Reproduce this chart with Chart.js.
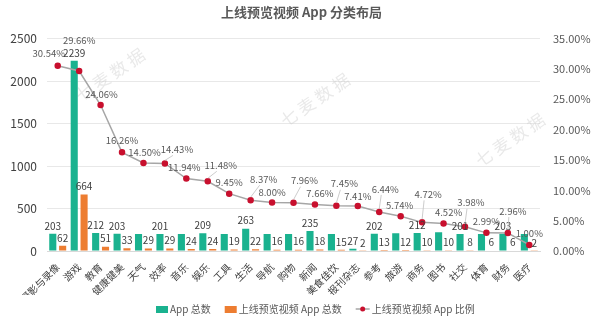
<!DOCTYPE html>
<html lang="zh">
<head>
    <meta charset="UTF-8">
    <title>上线预览视频 App 分类布局</title>
    <style>
        body {
            margin: 0;
            padding: 0;
            background-color: #ffffff;
        }

        canvas {
            display: block;
        }
    </style>
    <script src="https://cdn.jsdelivr.net/npm/chart.js"></script>
</head>
<body>
    <canvas id="categoryChart" width="603" height="318"></canvas>

    <script>
        // Data kategori
        const categories = ["摄影与录像", "游戏", "教育", "健康健美", "天气", "效率", "音乐", "娱乐", "工具", "生活", "导航",
            "购物", "新闻", "美食佳饮", "报刊杂志", "参考", "旅游", "商务", "图书", "社交", "体育", "财务", "医疗"];
        const appTotal = [203, 2239, 212, 203, 200, 201, 201, 209, 201, 263, 200,
            201, 235, 201, 27, 202, 209, 212, 221, 201, 201, 203, 200];
        const previewTotal = [62, 664, 51, 33, 29, 29, 24, 24, 19, 22, 16,
            16, 18, 15, 2, 13, 12, 10, 10, 8, 6, 6, 2];
        const previewRatio = [30.54, 29.66, 24.06, 16.26, 14.50, 14.43, 11.94, 11.48, 9.45, 8.37, 8.00,
            7.96, 7.66, 7.45, 7.41, 6.44, 5.74, 4.72, 4.52, 3.98, 2.99, 2.96, 1.00];
        // label jumlah App yang tampil di gambar asli
        const totalLabelShown = [true, true, true, true, false, true, false, true, false, true, false,
            false, true, false, true, true, false, true, false, true, false, true, false];
        const leftTicks = [0, 500, 1000, 1500, 2000, 2500];
        const rightTicks = [0, 5, 10, 15, 20, 25, 30, 35];

        const GREEN = "#1AB28F";
        const ORANGE = "#ED7D31";
        const RED = "#C8102E";
        const FONT = "'Noto Sans CJK SC', 'Noto Sans', sans-serif";

        // offset label persentase (dx, dy) dari titik
        const ratioOffsets = [[-9, -12], [0, -31], [1, -11], [0, -12], [1, -11], [12, -14], [-2, -11], [13, -16],
            [0, -11], [13, -21], [0, -10], [11, -22], [5, -11], [8, -22], [0, -10], [6, -23], [-1, -11],
            [6, -28], [5, -11], [6, -24], [0, -11], [5, -22], [0, -12]];

        // Watermark tipis
        const watermarkPlugin = {
            id: "watermark",
            beforeDatasetsDraw(chart) {
                const ctx = chart.ctx;
                ctx.save();
                ctx.fillStyle = "rgba(200,200,200,0.4)";
                ctx.font = "17px " + FONT;
                ctx.textAlign = "center";
                ctx.textBaseline = "middle";
                [[110, 75], [315, 100], [510, 140]].forEach(([x, y]) => {
                    ctx.save();
                    ctx.translate(x, y);
                    ctx.rotate(-0.6);
                    ctx.fillText("七 麦 数 据", 0, 0);
                    ctx.restore();
                });
                ctx.restore();
            }
        };

        // Label nilai di atas batang dan titik
        const valueLabelPlugin = {
            id: "valueLabels",
            afterDatasetsDraw(chart) {
                const ctx = chart.ctx;
                ctx.save();
                ctx.font = "10px " + FONT;
                ctx.textAlign = "center";
                ctx.textBaseline = "middle";
                ctx.fillStyle = "#404040";

                chart.getDatasetMeta(0).data.forEach((bar, i) => {
                    if (totalLabelShown[i]) ctx.fillText(appTotal[i], bar.x, bar.y - 8);
                });
                chart.getDatasetMeta(1).data.forEach((bar, i) => {
                    ctx.fillText(previewTotal[i], bar.x, bar.y - 8);
                });

                ctx.font = "9.5px " + FONT;
                ctx.fillStyle = "#595959";
                chart.getDatasetMeta(2).data.forEach((pt, i) => {
                    const [dx, dy] = ratioOffsets[i];
                    const lx = pt.x + dx;
                    const ly = pt.y + dy;
                    if (dy < -13 && dy > -30) {
                        ctx.strokeStyle = "#BFBFBF";
                        ctx.lineWidth = 0.8;
                        ctx.beginPath();
                        ctx.moveTo(pt.x, pt.y - 3);
                        ctx.lineTo(lx - 4, ly + 6);
                        ctx.stroke();
                    }
                    ctx.fillText(previewRatio[i].toFixed(2) + "%", lx, ly);
                });
                ctx.restore();
            }
        };

        // Legenda manual di bawah
        const legendPlugin = {
            id: "bottomLegend",
            afterDraw(chart) {
                const ctx = chart.ctx;
                const y = 309;
                let x = 156;
                ctx.save();
                ctx.font = "10px " + FONT;
                ctx.textBaseline = "middle";

                ctx.fillStyle = GREEN;
                ctx.fillRect(x, y - 3, 12, 7);
                ctx.fillStyle = "#595959";
                ctx.fillText("App 总数", x + 14, y);
                x += 14 + ctx.measureText("App 总数").width + 14;

                ctx.fillStyle = ORANGE;
                ctx.fillRect(x, y - 3, 12, 7);
                ctx.fillStyle = "#595959";
                ctx.fillText("上线预览视频 App 总数", x + 14, y);
                x += 14 + ctx.measureText("上线预览视频 App 总数").width + 14;

                ctx.strokeStyle = "#A6A6A6";
                ctx.lineWidth = 1.5;
                ctx.beginPath();
                ctx.moveTo(x, y);
                ctx.lineTo(x + 14, y);
                ctx.stroke();
                ctx.fillStyle = RED;
                ctx.beginPath();
                ctx.arc(x + 7, y, 2.5, 0, Math.PI * 2);
                ctx.fill();
                ctx.fillStyle = "#595959";
                ctx.fillText("上线预览视频 App 比例", x + 16, y);
                ctx.restore();
            }
        };

        const ctx = document.getElementById("categoryChart").getContext("2d");
        new Chart(ctx, {
            type: "bar",
            data: {
                labels: categories,
                datasets: [
                    {
                        label: "App 总数",
                        data: appTotal,
                        backgroundColor: GREEN,
                        yAxisID: "y",
                        order: 1,
                        categoryPercentage: 0.92,
                        barPercentage: 0.72
                    },
                    {
                        label: "上线预览视频 App 总数",
                        data: previewTotal,
                        backgroundColor: ORANGE,
                        yAxisID: "y",
                        order: 1,
                        categoryPercentage: 0.92,
                        barPercentage: 0.72
                    },
                    {
                        type: "line",
                        label: "上线预览视频 App 比例",
                        data: previewRatio,
                        yAxisID: "y1",
                        order: 0,
                        borderColor: "#A6A6A6",
                        borderWidth: 1.5,
                        pointBackgroundColor: RED,
                        pointBorderColor: RED,
                        pointRadius: 2.5,
                        tension: 0
                    }
                ]
            },
            options: {
                responsive: false,
                animation: false,
                layout: {
                    padding: { left: 0, right: 0, top: 0, bottom: 23 }
                },
                plugins: {
                    legend: { display: false },
                    tooltip: { enabled: false },
                    title: {
                        display: true,
                        text: "上线预览视频 App 分类布局",
                        color: "#595959",
                        font: { family: FONT, size: 13, weight: "bold" },
                        padding: { top: 4, bottom: 19 }
                    }
                },
                scales: {
                    x: {
                        grid: { display: false },
                        border: { color: "#D9D9D9" },
                        afterFit(scale) {
                            scale.height = 44;
                        },
                        ticks: {
                            color: "#404040",
                            font: { family: FONT, size: 10 },
                            minRotation: 45,
                            maxRotation: 45,
                            autoSkip: false,
                            padding: 2
                        }
                    },
                    y: {
                        position: "left",
                        min: 0,
                        max: 2500,
                        afterBuildTicks(scale) {
                            scale.ticks = leftTicks.map(v => ({ value: v }));
                        },
                        afterFit(scale) {
                            scale.width = 47;
                        },
                        grid: { color: "#E8E8E8", drawTicks: false },
                        border: { display: false },
                        ticks: {
                            color: "#404040",
                            font: { family: FONT, size: 12 },
                            padding: 10,
                            callback: v => String(v)
                        }
                    },
                    y1: {
                        position: "right",
                        min: 0,
                        max: 35,
                        afterBuildTicks(scale) {
                            scale.ticks = rightTicks.map(v => ({ value: v }));
                        },
                        afterFit(scale) {
                            scale.width = 63;
                        },
                        grid: { display: false },
                        border: { display: false },
                        ticks: {
                            color: "#595959",
                            font: { family: FONT, size: 11 },
                            padding: 5,
                            callback: v => v.toFixed(2) + "%"
                        }
                    }
                }
            },
            plugins: [watermarkPlugin, valueLabelPlugin, legendPlugin]
        });
    </script>
</body>
</html>
